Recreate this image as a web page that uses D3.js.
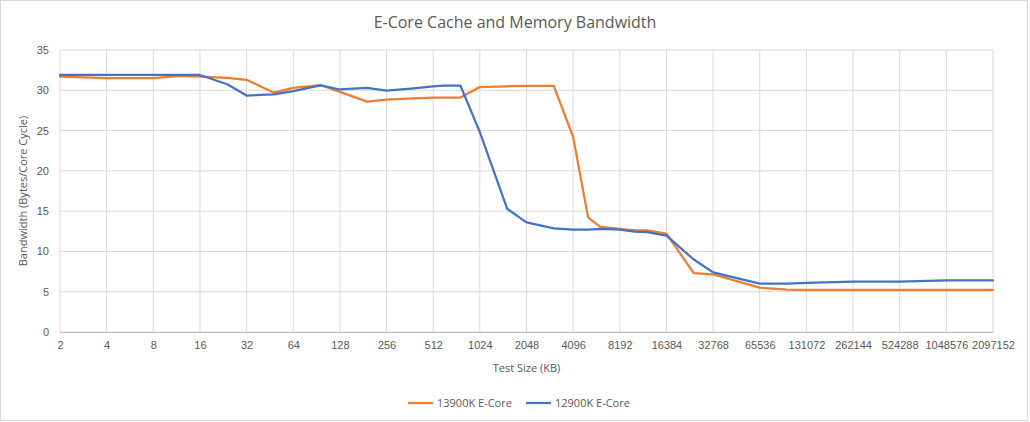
<!DOCTYPE html>
<html>
<head>
<meta charset="utf-8">
<script src="https://cdn.jsdelivr.net/npm/d3@7"></script>
<style>
  body { margin: 0; background: #fff; }
  svg { display: block; font-family: "Open Sans", sans-serif; }
</style>
</head>
<body>
<div id="chart"></div>
<script>
const width = 1030,
      height = 422,
      margin = { top: 50, right: 37, bottom: 90, left: 60 };

// Test sizes in KB
const sizes = [2, 4, 8, 12, 16, 24, 32, 48, 64, 96, 128, 192, 256, 384, 512, 600, 768,
  1024, 1536, 2048, 3072, 4096, 5120, 6144, 8192, 10240, 12288, 16384, 24576, 32768,
  65536, 98304, 131072, 262144, 393216, 524288, 1048576, 1572864, 2097152];

const e13900 = [31.7, 31.5, 31.5, 31.8, 31.7, 31.55, 31.3, 29.7, 30.3, 30.65, 29.8, 28.6, 28.85, 29.0, 29.1, 29.1, 29.1,
  30.4, 30.5, 30.55, 30.55, 24.2, 14.2, 13.05, 12.8, 12.6, 12.6, 12.2, 7.3, 7.15,
  5.5, 5.25, 5.24, 5.24, 5.24, 5.24, 5.24, 5.24, 5.24];

const e12900 = [31.9, 31.9, 31.9, 31.9, 31.9, 30.75, 29.35, 29.5, 29.9, 30.6, 30.1, 30.3, 29.95, 30.25, 30.5, 30.57, 30.57,
  24.8, 15.3, 13.6, 12.85, 12.7, 12.7, 12.8, 12.7, 12.45, 12.4, 11.95, 9.0, 7.4,
  6.0, 6.0, 6.1, 6.25, 6.25, 6.25, 6.4, 6.4, 6.4];

const seriesNames = ["13900K E-Core", "12900K E-Core"];
const seriesColors = ["#ED7D31", "#4472C4"];
const xTicks = d3.range(1, 22).map(p => Math.pow(2, p));
const yTicks = [0, 5, 10, 15, 20, 25, 30, 35];

const svg = d3.select("#chart")
  .append("svg")
  .attr("width", width)
  .attr("height", height);

// chart border
svg.append("rect")
  .attr("x", 0.5).attr("y", 0.5)
  .attr("width", width - 3).attr("height", height - 2)
  .attr("fill", "#fff")
  .attr("stroke", "#d9d9d9");

const x = d3.scaleLog().base(2)
  .domain([2, 2097152])
  .range([margin.left, width - margin.right]);

const y = d3.scaleLinear()
  .domain([0, 35])
  .range([height - margin.bottom, margin.top]);

// Gridlines
svg.append("g")
  .selectAll("line.h")
  .data(yTicks)
  .join("line")
  .attr("x1", margin.left).attr("x2", width - margin.right)
  .attr("y1", d => y(d)).attr("y2", d => y(d))
  .attr("stroke", "#d9d9d9");

svg.append("g")
  .selectAll("line.v")
  .data(xTicks)
  .join("line")
  .attr("x1", d => x(d)).attr("x2", d => x(d))
  .attr("y1", margin.top).attr("y2", y(0))
  .attr("stroke", "#d9d9d9");

// X-axis
const xAxis = svg.append("g")
  .attr("transform", `translate(0,${y(0)})`)
  .call(d3.axisBottom(x).tickValues(xTicks).tickFormat(d3.format("d")).tickSize(0).tickPadding(9));
xAxis.select(".domain").attr("stroke", "#bfbfbf");
xAxis.selectAll("text").attr("fill", "#595959").style("font-size", "11px");

// Y-axis
const yAxis = svg.append("g")
  .attr("transform", `translate(${margin.left},0)`)
  .call(d3.axisLeft(y).tickValues(yTicks).tickSize(0).tickPadding(11));
yAxis.select(".domain").remove();
yAxis.selectAll("text").attr("fill", "#595959").style("font-size", "11px");

// Lines
const line = d3.line()
  .x((d, i) => x(sizes[i]))
  .y(d => y(d));

[e13900, e12900].forEach((vals, k) => {
  svg.append("path")
    .datum(vals)
    .attr("fill", "none")
    .attr("stroke", seriesColors[k])
    .attr("stroke-width", 2.25)
    .attr("stroke-linejoin", "round")
    .attr("stroke-linecap", "round")
    .attr("d", line);
});

// Title
svg.append("text")
  .attr("x", 515)
  .attr("y", 28)
  .attr("text-anchor", "middle")
  .attr("fill", "#595959")
  .style("font-size", "16px")
  .text("E-Core Cache and Memory Bandwidth");

// Axis titles
svg.append("text")
  .attr("x", (margin.left + width - margin.right) / 2)
  .attr("y", 372)
  .attr("text-anchor", "middle")
  .attr("fill", "#595959")
  .style("font-size", "11px")
  .text("Test Size (KB)");

svg.append("text")
  .attr("transform", `translate(27,${(margin.top + y(0)) / 2}) rotate(-90)`)
  .attr("text-anchor", "middle")
  .attr("fill", "#595959")
  .style("font-size", "11px")
  .text("Bandwidth (Bytes/Core Cycle)");

// Legend
const legend = svg.append("g")
  .attr("transform", "translate(408,403)");

const legendItems = legend.selectAll("g")
  .data(seriesNames)
  .join("g")
  .attr("transform", (d, i) => `translate(${i * 118},0)`);

legendItems.append("line")
  .attr("x1", 0).attr("x2", 25)
  .attr("stroke", (d, i) => seriesColors[i])
  .attr("stroke-width", 2.25);

legendItems.append("text")
  .attr("x", 29)
  .attr("y", 4)
  .attr("fill", "#595959")
  .style("font-size", "11px")
  .text(d => d);
</script>
</body>
</html>
